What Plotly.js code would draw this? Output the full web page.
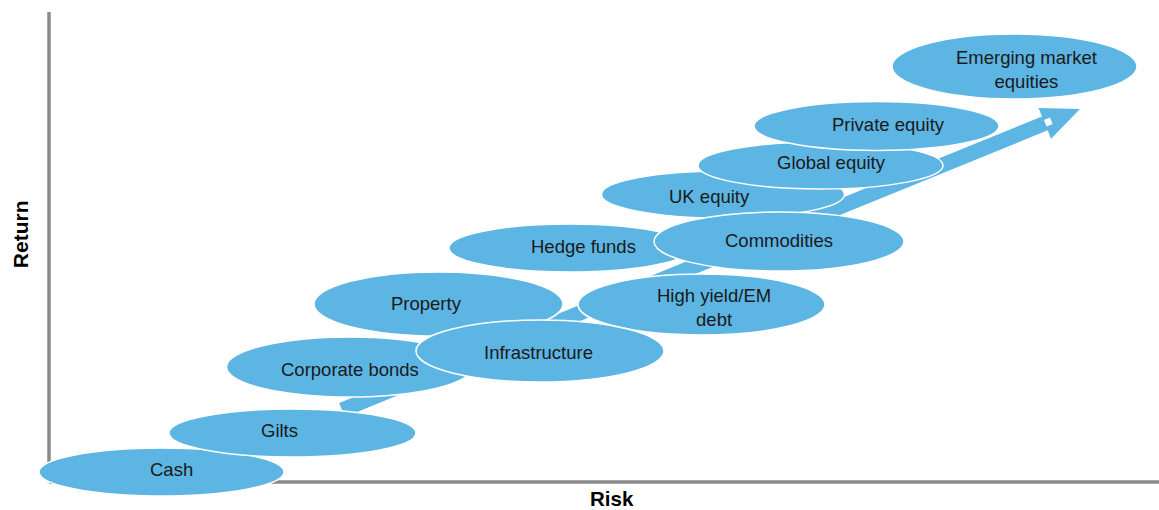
<!DOCTYPE html>
<html>
<head>
<meta charset="utf-8">
<script src="https://cdn.plot.ly/plotly-3.0.1.min.js"></script>
<style>html,body{margin:0;padding:0;background:#fff;}#chart{width:1159px;height:510px;}</style>
</head>
<body>
<div id="chart"></div>
<script>
// ---- data (risk / return position of each asset class) ----
const categories = ['Cash','Gilts','Corporate bonds','Property','High yield/EM debt','Infrastructure','Hedge funds','UK equity','Commodities','Global equity','Private equity','Emerging market equities'];
const labels = ['Cash','Gilts','Corporate bonds','Property','High yield/EM<br>debt','Infrastructure','Hedge funds','UK equity','Commodities','Global equity','Private equity','Emerging market<br>equities'];
const risk = [11.25, 24.35, 30.05, 38.95, 65.25, 49.1, 52.1, 67.4, 73.0, 77.15, 82.75, 96.55];
const ret  = [1.0, 4.9, 11.5, 17.8, 17.75, 13.1, 23.4, 28.75, 24.05, 31.65, 35.6, 41.55];
const arrowRisk = [29.3, 103.1];
const arrowReturn = [7.2, 37.3];
const axisRiskMax = 111;
const axisReturnMax = 47;

// ---- styling ----
const halfW = [12.25,12.35,12.3,12.45,12.35,12.4,12.1,12.15,12.5,12.25,12.25,12.25];
const halfH = [2.4,2.4,3.0,3.2,3.05,3.1,2.4,2.35,2.95,2.35,2.45,3.25];
const labelShiftX = [10,-13,0,-12,12,-2,13,-14,0,11,12,12];
const labelShiftY = [3,3,-2,1,-3,-1,2,-2,1,3,2,-3];
const blue = '#5db5e3';
const axisGrey = '#8a8a8a';
const fontFam = 'Liberation Sans, Arial, sans-serif';

// arrow polygon from start/end (equal scale on both axes)
const sx = arrowRisk[0], sy = arrowReturn[0], ex = arrowRisk[1], ey = arrowReturn[1];
const L = Math.hypot(ex - sx, ey - sy);
const ux = (ex - sx) / L, uy = (ey - sy) / L, nx = -uy, ny = ux;
const shaftHalf = 0.75, headHalf = 1.65, headLen = 3.8;
const bx = ex - ux * headLen, by = ey - uy * headLen;
const ax = [sx + nx*shaftHalf, bx + nx*shaftHalf, bx + nx*headHalf, ex, bx - nx*headHalf, bx - nx*shaftHalf, sx - nx*shaftHalf, sx + nx*shaftHalf];
const ay = [sy + ny*shaftHalf, by + ny*shaftHalf, by + ny*headHalf, ey, by - ny*headHalf, by - ny*shaftHalf, sy - ny*shaftHalf, sy + ny*shaftHalf];

const traces = [{
  type: 'scatter', mode: 'lines', x: ax, y: ay, fill: 'toself', fillcolor: blue,
  line: {color: blue, width: 0}, hoverinfo: 'skip', showlegend: false
}];

const shapes = [
  // axis lines (below everything)
  {type: 'line', xref: 'x', yref: 'y', layer: 'below', x0: 0, x1: 0, y0: 0, y1: axisReturnMax, line: {color: axisGrey, width: 3.5}},
  {type: 'line', xref: 'x', yref: 'y', layer: 'below', x0: 0, x1: axisRiskMax + 5, y0: 0, y1: 0, line: {color: axisGrey, width: 3.5}},
  // small white notch at arrow head base
  {type: 'line', xref: 'x', yref: 'y', layer: 'above', x0: bx + ux*0.05, y0: by + uy*0.05, x1: bx + ux*0.7, y1: by + uy*0.7, line: {color: '#ffffff', width: 7}}
];
categories.forEach((c, i) => shapes.push({
  type: 'circle', xref: 'x', yref: 'y', layer: 'above',
  x0: risk[i] - halfW[i], x1: risk[i] + halfW[i],
  y0: ret[i] - halfH[i], y1: ret[i] + halfH[i],
  fillcolor: blue, line: {color: '#ffffff', width: 1.5}
}));

const annotations = labels.map((t, i) => ({
  x: risk[i], y: ret[i], xref: 'x', yref: 'y', text: t, showarrow: false,
  xshift: labelShiftX[i], yshift: labelShiftY[i],
  font: {family: fontFam, size: 18.5, color: '#1a1a1a'}
}));
annotations.push({
  xref: 'paper', yref: 'paper', x: 0.528, y: 0.022, xanchor: 'center', yanchor: 'middle', text: '<b>Risk</b>', showarrow: false,
  font: {family: fontFam, size: 20.5, color: '#000'}
});
annotations.push({
  xref: 'paper', yref: 'paper', x: 0.0173, y: 0.541, xanchor: 'center', yanchor: 'middle', text: '<b>Return</b>', showarrow: false, textangle: -90,
  font: {family: fontFam, size: 21, color: '#000'}
});

const layout = {
  width: 1159, height: 510,
  margin: {l: 0, r: 0, t: 0, b: 0},
  paper_bgcolor: '#fff', plot_bgcolor: '#fff',
  // 10 px per unit on both axes; origin of the Risk/Return axes at pixel (49, 482)
  xaxis: {range: [-4.9, 111], visible: false, fixedrange: true},
  yaxis: {range: [-2.8, 48.2], visible: false, fixedrange: true},
  shapes: shapes,
  annotations: annotations,
  showlegend: false
};

Plotly.newPlot('chart', traces, layout, {displayModeBar: false, staticPlot: true});
</script>
</body>
</html>
